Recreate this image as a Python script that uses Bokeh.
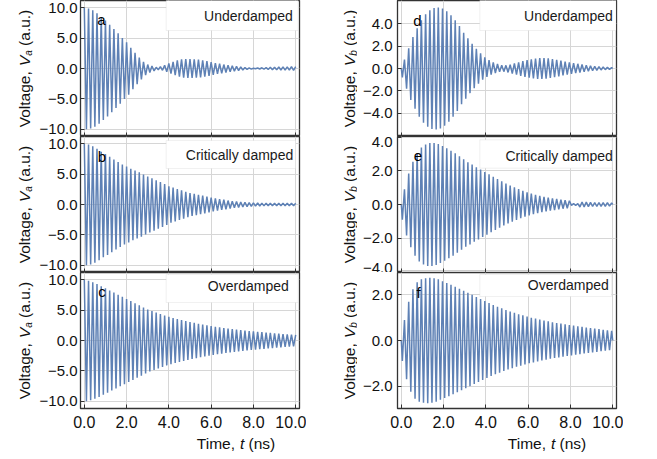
import math
from bokeh.plotting import figure
from bokeh.models import (FixedTicker, CustomJSTickFormatter, Range1d, Label, BoxAnnotation)
from bokeh.layouts import row, column
from bokeh.embed import file_html
from bokeh.resources import INLINE

# ---------------- data ----------------
# times of the positive peaks of V_a (ns), one per 0.2 ns cycle
peak_times_a = [round(0.2 * k, 1) for k in range(51)]
# centres of each cycle of V_b (ns)
cycle_centres_b = [round(0.1 + 0.2 * k, 1) for k in range(50)]
half_period = 0.1

# peak amplitudes of V_a (a.u.)
Va_under = [10.0, 9.9, 9.6, 9.1, 8.5, 7.9, 7.2, 6.5, 5.8, 5.0,
            4.3, 3.4, 2.6, 1.8, 1.1, 0.65, 0.4, 0.2, 0.3, 0.55,
            0.85, 1.1, 1.35, 1.5, 1.55, 1.55, 1.5, 1.45, 1.35, 1.2,
            1.05, 0.9, 0.8, 0.65, 0.55, 0.45, 0.35, 0.25, 0.15, 0.1,
            0.05, 0.08, 0.12, 0.15, 0.2, 0.22, 0.25, 0.27, 0.28, 0.3, 0.3]
Va_crit = [10.0, 9.9, 9.6, 9.2, 8.7, 8.3, 7.85, 7.4, 7.0, 6.6,
           6.25, 5.9, 5.6, 5.3, 4.95, 4.6, 4.3, 4.0, 3.7, 3.35,
           3.0, 2.8, 2.55, 2.35, 2.1, 1.9, 1.75, 1.6, 1.45, 1.3,
           1.15, 1.0, 0.9, 0.8, 0.65, 0.55, 0.48, 0.42, 0.36, 0.32,
           0.28, 0.25, 0.23, 0.22, 0.2, 0.2, 0.2, 0.2, 0.2, 0.2, 0.2]
Va_over = [10.0, 9.85, 9.6, 9.3, 8.95, 8.6, 8.25, 7.9, 7.55, 7.2,
           6.85, 6.5, 6.15, 5.8, 5.45, 5.1, 4.85, 4.6, 4.35, 4.1,
           3.9, 3.7, 3.52, 3.35, 3.2, 3.05, 2.9, 2.76, 2.63, 2.5,
           2.38, 2.27, 2.16, 2.06, 1.97, 1.88, 1.8, 1.72, 1.64, 1.57,
           1.5, 1.43, 1.37, 1.31, 1.25, 1.19, 1.13, 1.07, 1.02, 0.97, 0.92]

# cycle amplitudes of V_b (a.u.)
Vb_under = [0.8, 1.8, 2.8, 3.6, 4.3, 4.85, 5.2, 5.4, 5.45, 5.35,
            5.1, 4.75, 4.3, 3.8, 3.2, 2.7, 2.2, 1.75, 1.35, 1.0,
            0.75, 0.55, 0.4, 0.3, 0.28, 0.35, 0.45, 0.55, 0.65, 0.75,
            0.82, 0.88, 0.92, 0.92, 0.9, 0.85, 0.78, 0.7, 0.62, 0.55,
            0.48, 0.42, 0.36, 0.3, 0.25, 0.2, 0.16, 0.13, 0.1, 0.08]
Vb_crit = [0.9, 1.85, 2.55, 3.05, 3.4, 3.58, 3.66, 3.66, 3.6, 3.48,
           3.35, 3.2, 3.05, 2.88, 2.7, 2.52, 2.38, 2.22, 2.08, 1.93,
           1.8, 1.65, 1.52, 1.38, 1.25, 1.13, 1.02, 0.92, 0.82, 0.73,
           0.65, 0.58, 0.52, 0.46, 0.41, 0.37, 0.33, 0.29, 0.25, 0.22,
           0.05, 0.05, 0.15, 0.14, 0.13, 0.12, 0.12, 0.11, 0.11, 0.1]
Vb_over = [0.9, 1.7, 2.25, 2.55, 2.68, 2.73, 2.75, 2.73, 2.68, 2.6,
           2.52, 2.44, 2.36, 2.27, 2.18, 2.09, 2.0, 1.91, 1.82, 1.73,
           1.64, 1.56, 1.48, 1.41, 1.34, 1.27, 1.21, 1.15, 1.1, 1.05,
           1.0, 0.96, 0.92, 0.88, 0.84, 0.8, 0.77, 0.74, 0.71, 0.68,
           0.65, 0.62, 0.6, 0.57, 0.55, 0.52, 0.5, 0.47, 0.45, 0.42]

x_ticks = [0, 2, 4, 6, 8, 10]
ya_ticks = [-10, -5, 0, 5, 10]
yb_ticks_under = [-4, -2, 0, 2, 4]
yb_ticks_crit = [-4, -2, 0, 2, 4]
yb_ticks_over = [-2, 0, 2]
x_limits = (-0.18, 10.18)
ya_limits = (-11.2, 11.2)
yb_limits_under = (-6.07, 6.07)
yb_limits_crit = (-4.05, 4.05)
yb_limits_over = (-2.98, 2.98)

legend_texts = ["Underdamped", "Critically damped", "Overdamped"]
panel_letters = ["a", "b", "c", "d", "e", "f"]

# ---------------- helpers ----------------
def trace_peaks(times, amps):
    xs, ys = [], []
    for i, (t, a) in enumerate(zip(times, amps)):
        xs.append(t); ys.append(a)
        if i < len(times) - 1:
            xs.append(t + half_period); ys.append(-a)
    return xs, ys

def trace_cycles(centres, amps):
    xs, ys = [0.0], [0.0]
    for c, a in zip(centres, amps):
        xs += [c - half_period / 2, c + half_period / 2]
        ys += [-a, a]
    xs.append(10.0); ys.append(0.0)
    return xs, ys

FONT = "Liberation Sans"
FRAME_W, FRAME_H = 219, 136
BOTTOM_BORDER = 26
TIME_ROW_H = 18
PANEL_LEFT = [46, 40]     # left border of the panels (tick labels) per column
LABEL_W = [34, 51]        # width of the strip holding the rotated y labels
LABEL_CX = [24, 43]       # centre of the rotated label inside that strip
PANEL_RIGHT = 7
TOTAL_H = 3 * FRAME_H + BOTTOM_BORDER + TIME_ROW_H
LINE_COLOR = "#5E81B5"
DARK = "#333333"
TXT = "#111111"
FS = 15.5
XTICK_FS = "16px"
YTICK_FS = "15px"

fmt = CustomJSTickFormatter(code="return (tick < 0 ? '\\u2212' : '') + Math.abs(tick).toFixed(1);")

# Arial/Helvetica advance widths (per 1000 em) to place rich label pieces
W = {'V': 667, 'o': 556, 'l': 222, 't': 278, 'a': 556, 'g': 556, 'e': 556, ',': 278, ' ': 278,
     '(': 333, ')': 333, '.': 278, 'u': 556, 'b': 556, 'T': 611, 'i': 222, 'm': 833, 'n': 556, 's': 500}
def tw(s, fs):
    return sum(W[c] for c in s) * fs / 1000.0

def blank_fig(width, height):
    p = figure(width=width, height=height, x_range=Range1d(0, 1), y_range=Range1d(0, 1),
               output_backend="svg", toolbar_location=None,
               min_border_left=0, min_border_right=0, min_border_top=0, min_border_bottom=0,
               background_fill_color="white", border_fill_color="white", outline_line_color=None)
    p.axis.visible = False
    p.grid.visible = False
    return p

def ylabel_fig(col, sub):
    p = blank_fig(LABEL_W[col], TOTAL_H)
    cx = LABEL_CX[col]
    total = tw("Voltage,", FS) + tw(" ", FS) + tw("V", FS) + tw(sub, 10) + tw(" ", FS) + tw("(a.u.)", FS)
    common = dict(x_units="screen", y_units="screen", angle=math.pi / 2, text_font=FONT,
                  text_color=TXT, text_align="left", text_baseline="middle")
    for r in range(3):
        centre_from_top = r * FRAME_H + FRAME_H / 2
        y0 = (TOTAL_H - centre_from_top) - total / 2
        p.add_layout(Label(x=cx, y=y0, text="Voltage,", text_font_size=f"{FS}px", **common))
        y1 = y0 + tw("Voltage,", FS) + tw(" ", FS)
        p.add_layout(Label(x=cx, y=y1, text="V", text_font_size=f"{FS}px",
                           text_font_style="italic", **common))
        y2 = y1 + tw("V", FS)
        p.add_layout(Label(x=cx + 3.5, y=y2, text=sub, text_font_size="10px",
                           text_font_style="italic", **common))
        y3 = y2 + tw(sub, 10) + tw(" ", FS)
        p.add_layout(Label(x=cx, y=y3, text="(a.u.)", text_font_size=f"{FS}px", **common))
    return p

def time_fig(col):
    p = blank_fig(PANEL_LEFT[col] + FRAME_W + PANEL_RIGHT, TIME_ROW_H)
    total = tw("Time,", FS) + 2 * tw(" ", FS) + tw("t", FS) + tw("(ns)", FS)
    x0 = PANEL_LEFT[col] + FRAME_W / 2 - total / 2
    c2 = dict(y=TIME_ROW_H - 9, x_units="screen", y_units="screen", text_font=FONT, text_color=TXT,
              text_align="left", text_baseline="middle", text_font_size=f"{FS}px")
    p.add_layout(Label(x=x0, text="Time,", **c2))
    x1 = x0 + tw("Time,", FS) + tw(" ", FS)
    p.add_layout(Label(x=x1, text="t", text_font_style="italic", **c2))
    x2 = x1 + tw("t", FS) + tw(" ", FS)
    p.add_layout(Label(x=x2, text="(ns)", **c2))
    return p

def make_panel(col, row_i, xs, ys, ylim, yticks, letter, legend, box, text_right, text_mid, letter_pos):
    bottom = (row_i == 2)
    p = figure(width=PANEL_LEFT[col] + FRAME_W + PANEL_RIGHT,
               height=FRAME_H + (BOTTOM_BORDER if bottom else 0),
               x_range=Range1d(*x_limits), y_range=Range1d(*ylim),
               output_backend="svg", toolbar_location=None,
               min_border_left=PANEL_LEFT[col], min_border_right=PANEL_RIGHT,
               min_border_top=0, min_border_bottom=(BOTTOM_BORDER if bottom else 0),
               background_fill_color="white", border_fill_color="white",
               outline_line_color=DARK, outline_line_width=1.3)
    p.line(xs, ys, line_color=LINE_COLOR, line_width=1.5)

    for ax, fsz in ((p.xaxis[0], XTICK_FS), (p.yaxis[0], YTICK_FS)):
        ax.formatter = fmt
        ax.major_tick_in = 4
        ax.major_tick_out = 0
        ax.minor_tick_in = 0
        ax.minor_tick_out = 0
        ax.axis_line_color = DARK
        ax.major_tick_line_color = DARK
        ax.major_label_text_font = FONT
        ax.major_label_text_font_size = fsz
        ax.major_label_text_color = TXT
    p.xaxis.ticker = FixedTicker(ticks=x_ticks)
    p.yaxis.ticker = FixedTicker(ticks=yticks)
    p.yaxis.major_label_standoff = 3 if col == 0 else 5
    if bottom:
        p.xaxis.major_label_standoff = 7
    else:
        p.xaxis.major_label_text_color = None
        p.xaxis.major_label_text_font_size = "0px"
        p.xaxis.major_label_standoff = 0
    p.xgrid.grid_line_color = "#d6d6d6"
    p.ygrid.grid_line_color = "#d6d6d6"

    # legend inset
    bl, br, bt, bb = box
    p.add_layout(BoxAnnotation(left=bl, right=br, top=FRAME_H - bt, bottom=FRAME_H - bb,
                               left_units="screen", right_units="screen",
                               top_units="screen", bottom_units="screen",
                               fill_color="white", fill_alpha=1.0,
                               line_color="#d0d0d0", line_width=1, level="annotation"))
    p.add_layout(Label(x=text_right, y=FRAME_H - text_mid, x_units="screen", y_units="screen",
                       text=legend, text_font=FONT, text_font_size="14px", text_color="#1a1a1a",
                       text_align="right", text_baseline="middle"))
    # panel letter
    lx, ly = letter_pos
    p.add_layout(Label(x=lx, y=FRAME_H - ly, x_units="screen", y_units="screen",
                       text=letter, text_font=FONT, text_font_size="15px", text_color="#000000",
                       text_align="left", text_baseline="alphabetic"))
    return p

xa_u, ya_u = trace_peaks(peak_times_a, Va_under)
xa_c, ya_c = trace_peaks(peak_times_a, Va_crit)
xa_o, ya_o = trace_peaks(peak_times_a, Va_over)
xb_u, yb_u = trace_cycles(cycle_centres_b, Vb_under)
xb_c, yb_c = trace_cycles(cycle_centres_b, Vb_crit)
xb_o, yb_o = trace_cycles(cycle_centres_b, Vb_over)

pa = make_panel(0, 0, xa_u, ya_u, ya_limits, ya_ticks, panel_letters[0], legend_texts[0],
                (85.7, 217.7, -1, 30), 212.3, 15, (16.7, 18.5))
pb = make_panel(0, 1, xa_c, ya_c, ya_limits, ya_ticks, panel_letters[1], legend_texts[1],
                (85.7, 215.0, 4, 32), 212.7, 18, (17.3, 20))
pc = make_panel(0, 2, xa_o, ya_o, ya_limits, ya_ticks, panel_letters[2], legend_texts[2],
                (85.7, 217.7, 2, 30), 208.3, 13, (17.7, 18.7))
pd = make_panel(1, 0, xb_u, yb_u, yb_limits_under, yb_ticks_under, panel_letters[3], legend_texts[0],
                (82.3, 218.5, -1, 30), 215.3, 15, (15.7, 20))
pe = make_panel(1, 1, xb_c, yb_c, yb_limits_crit, yb_ticks_crit, panel_letters[4], legend_texts[1],
                (82.3, 214.7, 3.3, 31.7), 215.3, 19, (16.3, 19.7))
pf = make_panel(1, 2, xb_o, yb_o, yb_limits_over, yb_ticks_over, panel_letters[5], legend_texts[2],
                (82.3, 214.0, 2, 24), 211.3, 12.7, (19, 19.7))

layout = row(ylabel_fig(0, "a"), column(pa, pb, pc, time_fig(0)),
             ylabel_fig(1, "b"), column(pd, pe, pf, time_fig(1)))

with open("out.html", "w") as f:
    f.write(file_html(layout, INLINE))
